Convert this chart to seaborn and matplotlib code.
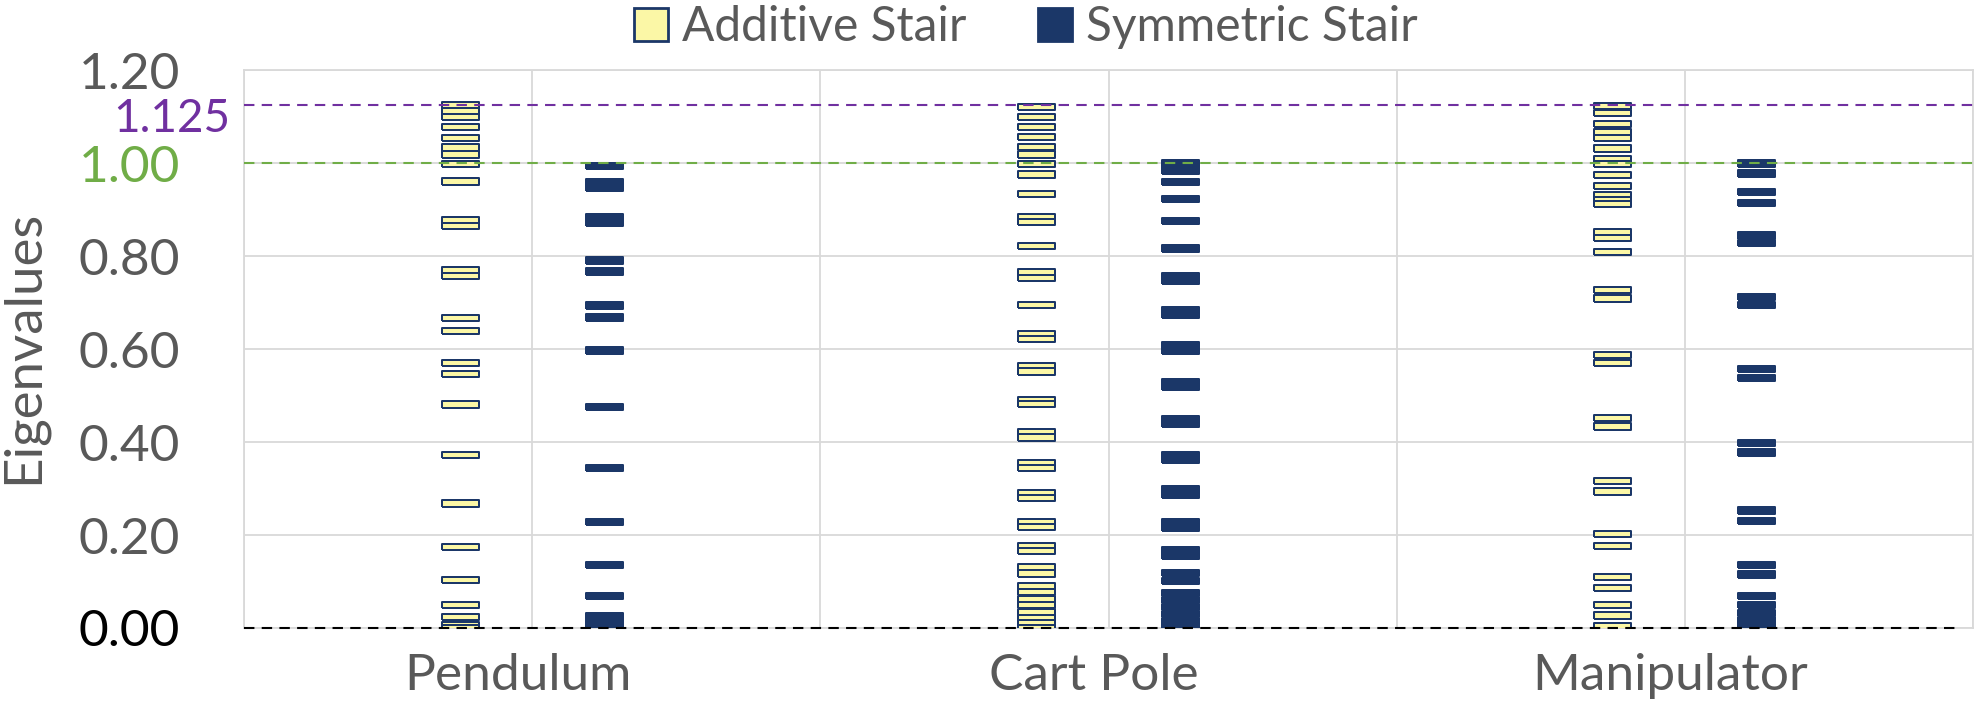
import pandas as pd
import matplotlib
matplotlib.use("Agg")
import matplotlib.pyplot as plt
import seaborn as sns
from matplotlib.patches import Patch
from matplotlib import transforms

# data
categories = ["Pendulum", "Cart Pole", "Manipulator"]
series_names = ["Additive Stair", "Symmetric Stair"]

pendulum_additive = [1.126, 1.113, 1.100, 1.078, 1.054, 1.034, 1.019, 0.999, 0.961,
                     0.877, 0.866, 0.771, 0.758, 0.667, 0.640, 0.571, 0.546, 0.481,
                     0.373, 0.268, 0.175, 0.103, 0.049, 0.023, 0.006, 0.0]
pendulum_symmetric = [0.995, 0.960, 0.948, 0.885, 0.872, 0.791, 0.767, 0.694, 0.668,
                      0.597, 0.475, 0.345, 0.228, 0.135, 0.069, 0.026, 0.014, 0.003]

cartpole_additive = [1.122, 1.100, 1.079, 1.057, 1.036, 1.019, 0.999, 0.976, 0.934,
                     0.884, 0.874, 0.822, 0.765, 0.753, 0.695, 0.632, 0.622, 0.563,
                     0.552, 0.490, 0.482, 0.422, 0.410, 0.355, 0.344, 0.290, 0.280,
                     0.228, 0.218, 0.176, 0.165, 0.130, 0.117, 0.090, 0.078, 0.062,
                     0.050, 0.035, 0.022, 0.010, 0.0]
cartpole_symmetric = [1.000, 0.985, 0.960, 0.924, 0.876, 0.817, 0.757, 0.747, 0.685,
                      0.675, 0.608, 0.596, 0.530, 0.520, 0.450, 0.440, 0.372, 0.362,
                      0.298, 0.286, 0.228, 0.216, 0.168, 0.155, 0.118, 0.101, 0.075,
                      0.060, 0.045, 0.030, 0.015, 0.003]

manipulator_additive = [1.124, 1.109, 1.085, 1.068, 1.055, 1.032, 1.010, 0.998, 0.975,
                        0.952, 0.932, 0.920, 0.912, 0.852, 0.840, 0.810, 0.728, 0.709,
                        0.588, 0.571, 0.452, 0.434, 0.317, 0.294, 0.202, 0.177, 0.109,
                        0.086, 0.049, 0.027, 0.004]
manipulator_symmetric = [1.000, 0.978, 0.938, 0.914, 0.845, 0.828, 0.713, 0.695, 0.558,
                         0.538, 0.398, 0.378, 0.253, 0.231, 0.135, 0.115, 0.069, 0.050,
                         0.033, 0.017, 0.003]

y_ticks = [0.0, 0.2, 0.4, 0.6, 0.8, 1.0, 1.2]
ref_upper = 1.125
ref_one = 1.0

values = {
    ("Pendulum", "Additive Stair"): pendulum_additive,
    ("Pendulum", "Symmetric Stair"): pendulum_symmetric,
    ("Cart Pole", "Additive Stair"): cartpole_additive,
    ("Cart Pole", "Symmetric Stair"): cartpole_symmetric,
    ("Manipulator", "Additive Stair"): manipulator_additive,
    ("Manipulator", "Symmetric Stair"): manipulator_symmetric,
}

# layout: each category spans two units on the x axis
offsets = {"Additive Stair": -0.25, "Symmetric Stair": 0.25}
rows = []
for i, cat in enumerate(categories):
    centre = 2 * i + 1
    for s in series_names:
        for v in values[(cat, s)]:
            rows.append({"x": centre + offsets[s], "value": v, "series": s})
df = pd.DataFrame(rows)

GREY = "#595959"
NAVY = "#1B3768"
YELLOW = "#FBF7A6"
PURPLE = "#7030A0"
GREEN = "#70AD47"
GRID = "#D9D9D9"

sns.set_theme(style="white")
plt.rcParams["font.family"] = ["Lato", "DejaVu Sans"]

fig = plt.figure(figsize=(19.81, 7.22), dpi=100)
ax = fig.add_axes([0.1232, 0.1302, 0.8728, 0.7722])

# flat rectangle marker like the Excel one
h = 0.17
rect = [(-1, -h), (1, -h), (1, h), (-1, h), (-1, -h)]

sns.scatterplot(data=df, x="x", y="value", hue="series",
                palette={"Additive Stair": YELLOW, "Symmetric Stair": NAVY},
                marker=rect, s=710, edgecolor=NAVY, linewidth=1.44,
                legend=False, ax=ax, zorder=3)

ax.set_xlim(0, 6)
ax.set_ylim(0, 1.2)

ax.set_xticks(range(7), minor=True)
ax.set_xticks([2 * i + 0.95 for i in range(len(categories))])
ax.set_xticklabels(categories, fontsize=37, color=GREY)
ax.grid(which="minor", axis="x", color=GRID, lw=1.3)
ax.grid(which="major", axis="y", color=GRID, lw=1.3)
ax.grid(which="major", axis="x", visible=False)
ax.tick_params(axis="x", which="both", length=0, pad=18)

ax.set_yticks(y_ticks)
ax.set_yticklabels([f"{t:.2f}" for t in y_ticks], fontsize=37)
tick_colors = ["black", GREY, GREY, GREY, GREY, GREEN, GREY]
for lab, c in zip(ax.get_yticklabels(), tick_colors):
    lab.set_color(c)
ax.tick_params(axis="y", length=0, pad=46)

for sp in ax.spines.values():
    sp.set_color(GRID)
    sp.set_linewidth(1.3)

dash = (0, (5, 3.5))
ax.axhline(ref_upper, color=PURPLE, lw=1.5, ls=dash, zorder=4)
ax.axhline(ref_one, color=GREEN, lw=1.5, ls=dash, zorder=4)
ax.axhline(0, xmax=0.991, color="black", lw=1.5, ls=dash, zorder=4, clip_on=False)

trans = transforms.blended_transform_factory(ax.transAxes, ax.transData)
ax.text(-0.008, ref_upper - 0.03, f"{ref_upper:.3f}", transform=trans,
        ha="right", va="center", fontsize=33, color=PURPLE)

ax.set_xlabel("")
ax.set_ylabel("")
fig.text(0.012, 0.519, "Eigenvalues", rotation=90, ha="center", va="center",
         fontsize=38, color=GREY)

handles = [Patch(facecolor=YELLOW, edgecolor=NAVY, linewidth=2),
           Patch(facecolor=NAVY, edgecolor=NAVY, linewidth=2)]
fig.legend(handles, series_names, loc="center", bbox_to_anchor=(0.518, 0.962),
           ncol=2, frameon=False, fontsize=34.5, labelcolor=GREY,
           handlelength=0.7, handleheight=0.7, handletextpad=0.3,
           columnspacing=1.5, borderpad=0)

fig.savefig("out.png", dpi=100)
